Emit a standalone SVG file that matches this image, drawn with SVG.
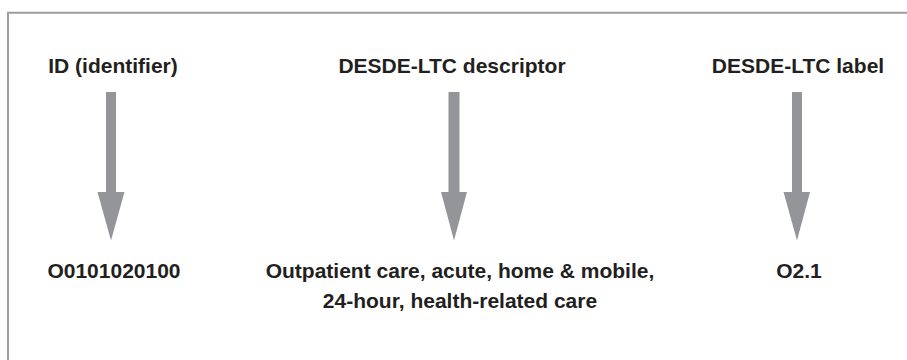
<svg xmlns="http://www.w3.org/2000/svg" width="907" height="360" viewBox="0 0 907 360">
<style>
.t{font-family:"Liberation Sans",Arial,sans-serif;font-weight:bold;font-size:21px;fill:#231f20;text-anchor:middle}
.arr{fill:#939598}
</style>
<rect width="907" height="360" fill="#ffffff"/>
<path d="M8,362 V12.7 H909" fill="none" stroke="#9d9d9d" stroke-width="2"/>
<g id="id-header"><text class="t" x="113" y="73">ID (identifier)</text></g>
<g id="descriptor-header"><text class="t" x="452" y="73">DESDE-LTC descriptor</text></g>
<g id="label-header"><text class="t" x="798" y="73">DESDE-LTC label</text></g>
<g id="id-value"><text class="t" x="114" y="278">O0101020100</text></g>
<g id="descriptor-value"><text class="t" x="460" y="278">Outpatient care, acute, home &amp; mobile,</text><text class="t" x="460" y="308">24-hour, health-related care</text></g>
<g id="label-value"><text class="t" x="799" y="278">O2.1</text></g>
<g id="connectors">
<path class="arr" d="M106,92 H116 V192 L124.5,192 L111,240.5 L97.5,192 H106 Z"/>
<path class="arr" d="M448.5,92 H459.5 V192 L467,192 L454,240.5 L441,192 H448.5 Z"/>
<path class="arr" d="M792,92 H802 V192 L810,192 L797,240.5 L783.5,192 H792 Z"/>
</g>
</svg>
